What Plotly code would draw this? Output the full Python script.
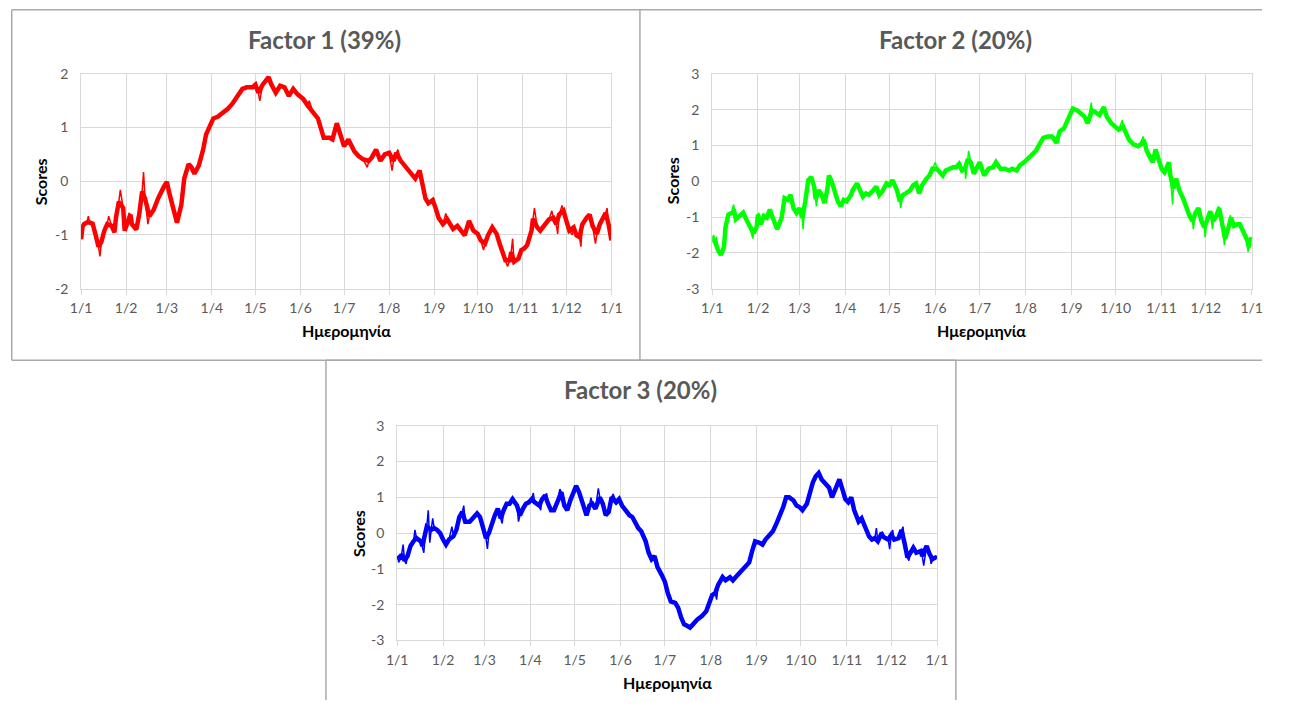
import pandas as pd
import plotly.graph_objects as go

# The page keeps the browser's default 8px body margin, so the figure is made 16px
# smaller than the window and every position below is given in window pixels.
PAGE_W, PAGE_H = 1289, 724
OFF = 8
W, H = PAGE_W - 2 * OFF, PAGE_H - 2 * OFF

# ---------------- data ----------------
month_ticks = ["2019-01-01", "2019-02-01", "2019-03-01", "2019-04-01", "2019-05-01", "2019-06-01",
               "2019-07-01", "2019-08-01", "2019-09-01", "2019-10-01", "2019-11-01", "2019-12-01", "2020-01-01"]
month_labels = ["1/1", "1/2", "1/3", "1/4", "1/5", "1/6", "1/7", "1/8", "1/9", "1/10", "1/11", "1/12", "1/1"]

titles = ["Factor 1 (39%)", "Factor 2 (20%)", "Factor 3 (20%)"]
y_title = "Scores"
x_title = "Ημερομηνία"

f1_days = [0, 1, 2, 4, 6, 8, 10, 12, 14, 16, 18, 21, 23, 24, 26, 29, 30, 32, 34, 35, 38, 40, 42, 44, 47, 50, 53,
           57, 59, 61, 64, 66, 69, 71, 74, 76, 78, 81, 84, 86, 88, 91, 94, 97, 101, 104, 108, 111, 114, 118, 120,
           122, 125, 129, 131, 134, 137, 140, 143, 146, 149, 153, 156, 160, 163, 165, 167, 171, 173, 176, 179,
           181, 184, 188, 191, 194, 198, 200, 203, 206, 209, 212, 215, 217, 220, 224, 227, 230, 233, 235, 237,
           239, 242, 244, 246, 249, 252, 254, 256, 259, 262, 264, 267, 270, 273, 275, 278, 280, 283, 286, 288,
           290, 292, 295, 296, 298, 301, 303, 305, 307, 310, 311, 314, 316, 319, 322, 325, 327, 329, 332, 334,
           336, 339, 341, 343, 345, 348, 350, 352, 355, 357, 359, 361, 363, 365]
f1_vals = [-1.08, -0.85, -0.80, -0.77, -0.77, -0.79, -1.00, -1.22, -1.13, -0.92, -0.80, -0.83, -0.95, -0.68, -0.38,
           -0.50, -0.92, -0.74, -0.62, -0.80, -0.90, -0.62, -0.19, -0.32, -0.65, -0.53, -0.32, -0.10, -0.01, -0.25,
           -0.62, -0.77, -0.44, 0.05, 0.32, 0.26, 0.14, 0.29, 0.59, 0.87, 0.99, 1.17, 1.20, 1.26, 1.35, 1.44, 1.59,
           1.72, 1.75, 1.75, 1.80, 1.65, 1.80, 1.94, 1.80, 1.65, 1.78, 1.75, 1.59, 1.72, 1.62, 1.53, 1.41, 1.26,
           1.17, 0.99, 0.81, 0.81, 0.78, 1.08, 0.80, 0.65, 0.78, 0.56, 0.47, 0.41, 0.38, 0.44, 0.59, 0.38, 0.50,
           0.53, 0.38, 0.53, 0.38, 0.26, 0.14, 0.05, 0.20, -0.07, -0.32, -0.41, -0.35, -0.50, -0.68, -0.80, -0.71,
           -0.80, -0.89, -0.83, -0.95, -1.01, -0.74, -0.92, -0.98, -1.10, -1.16, -1.01, -0.86, -0.98, -1.16, -1.35,
           -1.47, -1.47, -1.32, -1.50, -1.44, -1.28, -1.25, -1.19, -0.92, -0.70, -0.86, -0.92, -0.80, -0.71, -0.68,
           -0.80, -0.62, -0.55, -0.74, -0.92, -0.86, -1.01, -1.04, -0.80, -0.68, -0.62, -0.83, -0.98, -0.80, -0.68,
           -0.59, -0.80, -1.10]
f1_spike_days = [5, 13, 19, 27, 33, 43, 46, 123, 157, 197, 214, 218, 251, 277, 293.5, 297, 312, 324, 328, 331,
                 338, 344, 354, 362]
f1_spike_vals = [-0.65, -1.40, -0.65, -0.16, -0.59, 0.17, -0.80, 1.50, 1.50, 0.26, 0.20, 0.59, -0.60, -1.28,
                 -1.59, -1.07, -0.50, -0.55, -0.98, -0.45, -1.00, -1.22, -1.16, -0.50]

f2_days = [0, 2, 4, 6, 8, 9, 11, 13, 15, 16, 19, 21, 23, 25, 28, 30, 31, 33, 35, 37, 39, 41, 43, 44, 47, 49, 51,
           53, 55, 57, 59, 61, 63, 65, 67, 69, 70, 72, 74, 76, 78, 79, 81, 83, 85, 87, 89, 91, 94, 95, 98, 100,
           102, 104, 106, 109, 111, 113, 115, 118, 120, 122, 125, 127, 129, 131, 134, 136, 138, 140, 142, 145,
           147, 149, 152, 154, 156, 158, 160, 163, 165, 167, 169, 171, 173, 175, 177, 180, 181, 184, 187, 190,
           192, 195, 198, 201, 203, 206, 208, 211, 214, 217, 219, 222, 224, 227, 230, 233, 235, 238, 241, 244,
           247, 249, 252, 254, 257, 259, 262, 265, 267, 270, 272, 275, 278, 280, 282, 285, 288, 290, 292, 294,
           296, 298, 300, 302, 304, 306, 309, 310, 312, 314, 316, 319, 321, 323, 325, 327, 329, 331, 333, 335,
           337, 339, 341, 343, 345, 347, 349, 351, 353, 355, 357, 360, 362, 363, 364, 365]
f2_vals = [-1.60, -1.70, -1.93, -2.06, -1.84, -1.29, -0.93, -0.88, -0.85, -1.06, -0.97, -0.88, -1.06, -1.20, -1.45,
           -1.29, -0.93, -1.20, -0.97, -1.02, -0.79, -1.02, -1.25, -1.34, -1.02, -0.47, -0.52, -0.38, -0.75, -0.88,
           -0.75, -1.02, -0.56, 0.03, 0.12, -0.15, -0.50, -0.25, -0.38, -0.61, -0.20, 0.16, -0.02, -0.29, -0.56,
           -0.70, -0.52, -0.56, -0.38, -0.25, -0.06, -0.25, -0.43, -0.34, -0.38, -0.25, -0.15, -0.38, -0.29, -0.06,
           -0.11, 0.03, -0.25, -0.56, -0.38, -0.34, -0.25, -0.11, -0.06, -0.34, -0.11, 0.07, 0.16, 0.35, 0.35,
           0.25, 0.16, 0.30, 0.35, 0.39, 0.39, 0.48, 0.30, 0.35, 0.62, 0.53, 0.21, 0.44, 0.53, 0.16, 0.35, 0.39,
           0.53, 0.35, 0.35, 0.30, 0.35, 0.30, 0.44, 0.53, 0.66, 0.75, 0.85, 1.07, 1.21, 1.25, 1.25, 1.07, 1.39,
           1.48, 1.75, 2.03, 1.98, 1.89, 1.80, 1.62, 1.98, 1.94, 1.85, 2.07, 1.80, 1.62, 1.53, 1.44, 1.53, 1.35,
           1.16, 1.03, 0.98, 1.03, 1.16, 0.85, 0.66, 0.53, 0.89, 0.62, 0.35, 0.25, 0.53, 0.16, -0.20, 0.07, -0.25,
           -0.52, -0.75, -0.97, -1.11, -0.88, -0.75, -1.11, -1.29, -1.02, -0.84, -1.11, -0.97, -0.75, -1.11, -1.61,
           -1.34, -1.02, -1.25, -1.20, -1.20, -1.47, -1.65, -1.84, -1.70, -1.56]
f2_spike_days = [1, 3, 14.5, 27.5, 31.5, 61.5, 70.5, 127.5, 151, 168, 171.5, 173.5, 256.5, 277.5, 291.5,
                 311.5, 325.5, 333.5, 338.5, 342.5, 346.5, 350.5, 362.5]
f2_spike_vals = [-1.50, -1.55, -0.65, -1.60, -0.88, -1.34, -0.70, -0.75, 0.53, 0.53, 0.07, 0.85, 2.20, 1.71,
                 1.25, -0.65, -1.34, -1.56, -1.34, -0.70, -1.79, -0.95, -1.97]

f3_days = [0, 2, 3, 5, 7, 9, 11, 13, 16, 17, 19, 20, 23, 25, 27, 29, 31, 33, 35, 38, 40, 42, 44, 46, 49, 51, 54,
           56, 58, 60, 62, 64, 66, 68, 70, 72, 74, 76, 78, 81, 83, 85, 87, 89, 91, 93, 96, 98, 100, 102, 104, 106,
           108, 111, 113, 115, 117, 120, 121, 123, 126, 128, 130, 132, 134, 137, 139, 141, 143, 145, 148, 150,
           152, 154, 157, 159, 161, 163, 165, 168, 170, 172, 174, 176, 179, 181, 183, 185, 188, 190, 192, 194,
           196, 198, 200, 203, 206, 209, 211, 213, 215, 217, 220, 222, 225, 227, 230, 233, 236, 238, 240, 242,
           245, 247, 249, 252, 254, 257, 259, 261, 263, 265, 268, 270, 272, 274, 277, 279, 281, 283, 285, 287,
           289, 292, 294, 296, 299, 301, 303, 305, 307, 309, 312, 314, 316, 319, 321, 323, 325, 327, 330, 332,
           334, 336, 339, 341, 343, 345, 347, 349, 351, 354, 355, 358, 360, 362, 364, 365]
f3_vals = [-0.64, -0.73, -0.59, -0.77, -0.64, -0.36, -0.23, -0.14, -0.23, -0.36, 0.00, 0.18, 0.09, 0.14, 0.09,
           0.00, -0.18, -0.32, -0.18, -0.09, 0.09, 0.45, 0.59, 0.32, 0.32, 0.41, 0.55, 0.45, 0.14, -0.14, 0.00,
           0.27, 0.50, 0.68, 0.41, 0.64, 0.82, 0.82, 0.95, 0.77, 0.50, 0.68, 0.82, 0.86, 0.95, 0.86, 0.77, 0.95,
           1.05, 0.82, 0.64, 0.64, 0.86, 1.14, 0.77, 0.64, 0.91, 1.27, 1.32, 1.14, 0.77, 0.50, 0.77, 0.82, 0.68,
           1.00, 0.82, 0.50, 0.59, 1.00, 0.86, 0.95, 0.77, 0.64, 0.50, 0.45, 0.27, 0.14, 0.05, -0.23, -0.55, -0.73,
           -0.64, -0.95, -1.18, -1.36, -1.68, -1.91, -1.95, -2.09, -2.36, -2.55, -2.59, -2.64, -2.55, -2.41, -2.32,
           -2.18, -1.95, -1.73, -1.68, -1.45, -1.23, -1.32, -1.23, -1.32, -1.18, -1.05, -0.95, -0.82, -0.50, -0.23,
           -0.27, -0.32, -0.18, -0.05, 0.05, 0.32, 0.50, 0.73, 1.00, 1.00, 0.91, 0.77, 0.73, 0.64, 0.82, 1.14, 1.41,
           1.59, 1.68, 1.50, 1.41, 1.27, 1.00, 1.23, 1.50, 1.23, 0.95, 0.86, 1.00, 0.64, 0.32, 0.41, 0.23, -0.09,
           -0.18, -0.14, -0.23, -0.05, -0.14, -0.18, -0.05, -0.18, -0.14, 0.09, -0.27, -0.68, -0.55, -0.41, -0.55,
           -0.50, -0.64, -0.36, -0.59, -0.73, -0.68, -0.70]
f3_spike_days = [1, 4, 6, 12, 18, 21, 22, 24, 37, 45, 61, 71, 82, 92, 97, 101, 110, 131, 136, 146, 216, 324,
                 328, 333, 335, 342, 346, 356, 361]
f3_spike_vals = [-0.82, -0.32, -0.86, 0.09, -0.55, 0.64, -0.27, 0.41, 0.18, 0.77, -0.44, 0.27, 0.32, 1.12, 0.64,
                 1.11, 1.23, 0.99, 1.25, 1.09, -1.86, 0.14, 0.04, -0.45, 0.09, 0.18, -0.77, -0.91, -0.86]

colors = ["#ff0000", "#00ff00", "#0000ff"]
y_tickvals = [[-2, -1, 0, 1, 2], [-3, -2, -1, 0, 1, 2, 3], [-3, -2, -1, 0, 1, 2, 3]]
y_ticktext = [["-2", "-1", "0", "1", "2"], ["-3", "-2", "-1", "0", "1", "2", "3"],
              ["-3", "-2", "-1", "0", "1", "2", "3"]]

# ---------------- layout helpers (window pixels -> paper) ----------------
def px(x):
    return (x - OFF) / W

def py(y):
    return 1 - (y - OFF) / H

base = pd.Timestamp("2019-01-01")

def to_dates(days):
    return [base + pd.Timedelta(days=d) for d in days]

series = [
    (f1_days, f1_vals, f1_spike_days, f1_spike_vals),
    (f2_days, f2_vals, f2_spike_days, f2_spike_vals),
    (f3_days, f3_vals, f3_spike_days, f3_spike_vals),
]

# plot areas in window pixels: (x0, x1, ytop, ybottom)
areas = [(79.3, 619.0, 74.5, 294.5), (721.5, 1270.5, 74.5, 294.5), (401.0, 950.3, 435.0, 655.0)]
title_pos = [(327, 39), (969, 39), (649, 398)]
ytitle_pos = [(38, 185), (681, 184), (361, 545)]
xtitle_pos = [(349, 337), (996, 337), (676, 698)]

# border segments of the three chart boxes (window pixels), all kept inside the figure
RIGHT = OFF + W          # right edge of the figure
BOTTOM = OFF + H         # bottom edge of the figure
LEFT_TOP = OFF + 0.75
border_segments = [
    # box 1
    (LEFT_TOP, LEFT_TOP, 648.0, LEFT_TOP), (LEFT_TOP, LEFT_TOP, LEFT_TOP, 368.0),
    (648.0, LEFT_TOP, 648.0, 368.0), (LEFT_TOP, 368.0, 648.0, 368.0),
    # box 2 (runs off the right edge)
    (648.0, LEFT_TOP, RIGHT, LEFT_TOP), (648.0, 368.0, RIGHT, 368.0),
    # box 3 (runs off the bottom edge)
    (328.5, 368.0, 969.5, 368.0), (328.5, 368.0, 328.5, BOTTOM), (969.5, 368.0, 969.5, BOTTOM),
]

FONT = "Lato, 'Open Sans', sans-serif"
GRID = "#d9d9d9"

fig = go.Figure()
layout = dict(
    width=W, height=H, margin=dict(l=0, r=0, t=0, b=0),
    paper_bgcolor="white", plot_bgcolor="white", showlegend=False,
    font=dict(family=FONT, size=13, color="#595959"),
    annotations=[], shapes=[],
)

for i, (days, vals, sdays, svals) in enumerate(series):
    n = "" if i == 0 else str(i + 1)
    xa, ya = "x" + n, "y" + n
    merged = sorted(list(zip(days, vals)) + list(zip(sdays, svals)), key=lambda t: t[0])
    fig.add_trace(go.Scatter(
        x=to_dates([m[0] for m in merged]), y=[m[1] for m in merged], mode="lines",
        line=dict(color=colors[i], width=1.5), xaxis=xa, yaxis=ya, hoverinfo="skip"))
    fig.add_trace(go.Scatter(
        x=to_dates(days), y=vals, mode="lines",
        line=dict(color=colors[i], width=4.5), xaxis=xa, yaxis=ya, hoverinfo="skip"))

    x0, x1, yt, yb = areas[i]
    layout["xaxis" + n] = dict(
        domain=[px(x0), px(x1)], anchor=ya, type="date",
        range=[month_ticks[0], month_ticks[-1]],
        tickmode="array", tickvals=month_ticks, ticktext=month_labels,
        showgrid=True, gridcolor=GRID, gridwidth=1,
        showline=True, linecolor=GRID, linewidth=1, mirror=True,
        ticks="outside", ticklen=5, tickcolor=GRID, tickwidth=1,
        tickfont=dict(family=FONT, size=14, color="#595959"),
        ticklabelstandoff=2, zeroline=False, fixedrange=True,
    )
    layout["yaxis" + n] = dict(
        domain=[py(yb), py(yt)], anchor=xa,
        range=[y_tickvals[i][0], y_tickvals[i][-1]],
        tickmode="array", tickvals=y_tickvals[i], ticktext=y_ticktext[i],
        showgrid=True, gridcolor=GRID, gridwidth=1,
        showline=True, linecolor=GRID, linewidth=1, mirror=True,
        ticks="", zeroline=False, ticklabelstandoff=9,
        tickfont=dict(family=FONT, size=14, color="#595959"), fixedrange=True,
    )

    tx, ty = title_pos[i]
    layout["annotations"].append(dict(
        text="<b>" + titles[i] + "</b>", xref="paper", yref="paper", x=px(tx), y=py(ty),
        xanchor="center", yanchor="middle", showarrow=False,
        font=dict(family=FONT, size=24, color="#595959")))
    sx, sy = ytitle_pos[i]
    layout["annotations"].append(dict(
        text="<b>" + y_title + "</b>", xref="paper", yref="paper", x=px(sx), y=py(sy),
        xanchor="center", yanchor="middle", showarrow=False, textangle=-90,
        font=dict(family=FONT, size=16, color="#000000")))
    hx, hy = xtitle_pos[i]
    layout["annotations"].append(dict(
        text="<b>" + x_title + "</b>", xref="paper", yref="paper", x=px(hx), y=py(hy),
        xanchor="center", yanchor="middle", showarrow=False,
        font=dict(family=FONT, size=16, color="#000000")))

for (ax0, ay0, ax1, ay1) in border_segments:
    layout["shapes"].append(dict(
        type="line", xref="paper", yref="paper",
        x0=px(ax0), x1=px(ax1), y0=py(ay0), y1=py(ay1),
        line=dict(color="#a9a9a9", width=1.5), layer="above"))

fig.update_layout(**layout)
fig.write_html("out.html", config={"displayModeBar": False})
